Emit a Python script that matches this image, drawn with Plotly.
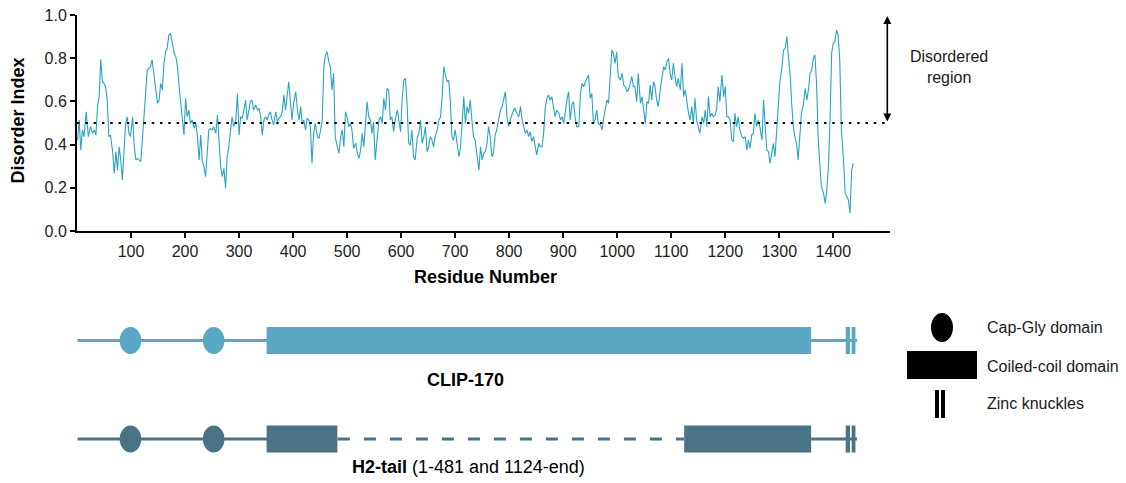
import plotly.graph_objects as go

# ---------------- data ----------------
res_a = [1, 4, 7, 10, 13, 17, 21, 25, 29, 32, 35, 38, 41, 44, 47, 50, 53, 56, 59, 62, 66, 69, 72, 75, 78, 81, 84, 87, 90, 93, 96, 99, 103, 106, 109, 112, 115, 118, 121, 124, 127, 130, 133, 136, 139, 143, 146, 149, 152, 155, 158, 161, 164, 167, 170, 173, 176, 180, 183, 186, 189, 192, 195, 198, 201, 204, 207, 210, 213, 217, 220, 223, 226, 229, 232]
dis_a = [0.42, 0.514, 0.375, 0.468, 0.437, 0.552, 0.437, 0.483, 0.452, 0.468, 0.444, 0.576, 0.622, 0.795, 0.691, 0.684, 0.668, 0.606, 0.437, 0.444, 0.367, 0.267, 0.367, 0.282, 0.39, 0.329, 0.236, 0.39, 0.498, 0.529, 0.452, 0.437, 0.529, 0.39, 0.329, 0.336, 0.329, 0.321, 0.421, 0.529, 0.606, 0.745, 0.753, 0.761, 0.792, 0.699, 0.637, 0.591, 0.606, 0.684, 0.653, 0.776, 0.83, 0.846, 0.907, 0.915, 0.877, 0.823, 0.807, 0.761, 0.668, 0.591, 0.529, 0.444, 0.614, 0.529, 0.56, 0.498, 0.514, 0.475, 0.498, 0.437, 0.329, 0.444, 0.321]

res_b = [235, 238, 241, 244, 247, 250, 253, 257, 260, 263, 266, 269, 272, 275, 278, 281, 284, 287, 290, 294, 297, 300, 303, 306, 309, 312, 315, 318, 321, 324, 327, 331, 334, 337, 340, 343, 346, 349, 352, 355, 358, 361, 364, 368, 371, 374, 377, 380, 383, 386, 389, 392, 395, 398, 401, 405, 408, 411, 414, 417, 420, 423, 426, 429, 432, 435, 438, 441, 445, 448, 451, 454, 457, 460, 463, 466, 469, 472, 475, 478]
dis_b = [0.298, 0.252, 0.36, 0.468, 0.475, 0.468, 0.483, 0.452, 0.537, 0.39, 0.298, 0.252, 0.29, 0.198, 0.344, 0.39, 0.452, 0.529, 0.483, 0.514, 0.637, 0.444, 0.529, 0.522, 0.56, 0.606, 0.514, 0.568, 0.599, 0.606, 0.56, 0.583, 0.56, 0.568, 0.529, 0.444, 0.514, 0.529, 0.514, 0.537, 0.552, 0.514, 0.491, 0.552, 0.506, 0.522, 0.529, 0.552, 0.63, 0.56, 0.614, 0.691, 0.599, 0.514, 0.591, 0.645, 0.56, 0.514, 0.576, 0.498, 0.514, 0.468, 0.522, 0.514, 0.483, 0.313, 0.452, 0.498, 0.437, 0.429, 0.468, 0.514, 0.761, 0.815, 0.83, 0.784, 0.761, 0.653, 0.73, 0.437]

res_c = [482, 485, 488, 491, 494, 497, 500, 503, 506, 509, 512, 516, 519, 522, 525, 528, 531, 534, 537, 540, 543, 546, 549, 552, 556, 559, 562, 565, 568, 571, 574, 577, 580, 583, 586, 589, 593, 596, 599, 602, 605, 608, 611, 614, 617, 620, 623, 626, 630, 633, 636, 639, 642, 645, 648, 651, 654, 657, 660, 663, 667, 670, 673, 676, 679, 682, 685, 688, 691, 694, 697, 700, 704, 707, 710, 713]
dis_c = [0.39, 0.36, 0.437, 0.468, 0.39, 0.552, 0.529, 0.483, 0.498, 0.468, 0.383, 0.406, 0.36, 0.336, 0.375, 0.452, 0.39, 0.514, 0.599, 0.529, 0.514, 0.452, 0.506, 0.329, 0.421, 0.514, 0.529, 0.498, 0.614, 0.56, 0.66, 0.653, 0.514, 0.529, 0.46, 0.514, 0.56, 0.498, 0.46, 0.614, 0.699, 0.707, 0.591, 0.406, 0.398, 0.468, 0.344, 0.329, 0.437, 0.452, 0.514, 0.406, 0.437, 0.483, 0.367, 0.39, 0.437, 0.421, 0.39, 0.437, 0.468, 0.514, 0.529, 0.622, 0.761, 0.722, 0.691, 0.699, 0.606, 0.437, 0.421, 0.468, 0.39, 0.344, 0.39, 0.498]

res_d = [716, 719, 722, 725, 728, 731, 734, 737, 740, 744, 747, 750, 753, 756, 759, 762, 765, 768, 771, 774, 777, 781, 784, 787, 790, 793, 796, 799, 802, 805, 808, 811, 814, 818, 821, 824, 827, 830, 833, 836, 839, 842, 845, 848, 851, 855, 858, 861, 864, 867, 870, 873, 876, 879, 882, 885, 888, 892, 895, 898, 901, 904, 907, 910, 913, 916, 919, 922, 925, 929, 932, 935, 938, 941, 944, 947, 950, 953]
dis_d = [0.622, 0.498, 0.576, 0.545, 0.606, 0.514, 0.437, 0.421, 0.36, 0.282, 0.39, 0.329, 0.36, 0.367, 0.406, 0.483, 0.437, 0.344, 0.36, 0.444, 0.468, 0.529, 0.56, 0.576, 0.606, 0.645, 0.529, 0.483, 0.514, 0.537, 0.56, 0.568, 0.545, 0.529, 0.576, 0.514, 0.483, 0.452, 0.468, 0.437, 0.46, 0.414, 0.437, 0.39, 0.352, 0.406, 0.39, 0.39, 0.46, 0.576, 0.614, 0.63, 0.606, 0.622, 0.576, 0.529, 0.56, 0.545, 0.514, 0.529, 0.498, 0.568, 0.606, 0.645, 0.514, 0.583, 0.599, 0.529, 0.483, 0.483, 0.637, 0.684, 0.668, 0.691, 0.707, 0.722, 0.614, 0.637]

res_e = [956, 959, 962, 965, 969, 972, 975, 978, 981, 984, 987, 990, 993, 996, 999, 1002, 1006, 1009, 1012, 1015, 1018, 1021, 1024, 1027, 1030, 1033, 1036, 1039, 1043, 1046, 1049, 1052, 1055, 1058, 1061, 1064, 1067, 1070, 1073, 1076, 1080, 1083, 1086, 1089, 1092, 1095, 1098, 1101, 1104, 1107, 1110, 1113, 1117, 1120, 1123, 1126, 1129, 1132, 1135, 1138, 1141, 1144, 1147, 1150, 1153, 1157, 1160, 1163, 1166, 1169, 1172, 1175, 1178, 1181, 1184, 1187, 1190, 1194]
dis_e = [0.498, 0.514, 0.56, 0.498, 0.491, 0.468, 0.522, 0.56, 0.606, 0.591, 0.738, 0.838, 0.823, 0.776, 0.83, 0.715, 0.699, 0.73, 0.676, 0.668, 0.645, 0.653, 0.684, 0.715, 0.668, 0.668, 0.599, 0.73, 0.591, 0.622, 0.56, 0.498, 0.599, 0.591, 0.676, 0.606, 0.691, 0.668, 0.606, 0.576, 0.66, 0.715, 0.761, 0.745, 0.784, 0.799, 0.73, 0.699, 0.776, 0.715, 0.668, 0.707, 0.653, 0.776, 0.622, 0.653, 0.591, 0.545, 0.514, 0.576, 0.498, 0.614, 0.514, 0.483, 0.452, 0.529, 0.498, 0.56, 0.483, 0.622, 0.529, 0.545, 0.529, 0.537, 0.56, 0.668, 0.599, 0.722]

res_f = [1197, 1200, 1203, 1206, 1209, 1212, 1215, 1218, 1221, 1224, 1227, 1231, 1234, 1237, 1240, 1243, 1246, 1249, 1252, 1255, 1258, 1261, 1264, 1268, 1271, 1274, 1277, 1280, 1283, 1286, 1289, 1292, 1295, 1298, 1301, 1305, 1308, 1311, 1314, 1317, 1320, 1323, 1326, 1329, 1332, 1335, 1338, 1341, 1345, 1348, 1351, 1354, 1357, 1360, 1363, 1366, 1369, 1372, 1375, 1378, 1382, 1385, 1388, 1391, 1394, 1397, 1400, 1403, 1406, 1409, 1412, 1415, 1419, 1422, 1425, 1428, 1431, 1434, 1437]
dis_f = [0.622, 0.668, 0.529, 0.529, 0.514, 0.421, 0.414, 0.545, 0.483, 0.529, 0.468, 0.437, 0.429, 0.437, 0.375, 0.421, 0.383, 0.444, 0.452, 0.545, 0.483, 0.514, 0.483, 0.421, 0.606, 0.483, 0.375, 0.367, 0.313, 0.36, 0.406, 0.344, 0.452, 0.606, 0.684, 0.761, 0.838, 0.846, 0.9, 0.807, 0.73, 0.591, 0.483, 0.437, 0.406, 0.329, 0.452, 0.545, 0.591, 0.66, 0.606, 0.653, 0.73, 0.745, 0.799, 0.815, 0.684, 0.437, 0.313, 0.205, 0.174, 0.128, 0.19, 0.298, 0.514, 0.823, 0.869, 0.877, 0.931, 0.907, 0.792, 0.468, 0.329, 0.174, 0.159, 0.144, 0.082, 0.282, 0.313]

residues = res_a + res_b + res_c + res_d + res_e + res_f
disorder = dis_a + dis_b + dis_c + dis_d + dis_e + dis_f

x_ticks = [100, 200, 300, 400, 500, 600, 700, 800, 900, 1000, 1100, 1200, 1300, 1400]
y_ticks = [0.0, 0.2, 0.4, 0.6, 0.8, 1.0]
threshold = 0.5

# domain architecture (residue numbers)
protein_end = 1444
cap_gly_centers = [99, 253]
coiled_coil = [351, 1359]
h2_kept = [[351, 482], [1124, 1359]]
zinc_knuckles = [[1423, 1431], [1434, 1441]]

# ---------------- geometry helpers ----------------
# the captured page is squeezed vertically by ~483/492, so lay out on a 492 px tall canvas
K = 483 / 492
W, H = 1126, 492
ML, MR, MB = 77, 236, 0
MT = 15 / K
PW, PH = W - ML - MR, H - MT - MB


def fx(p):
    return (p - ML) / PW


def fy(p):
    # p = target pixel row in the final 483 px picture
    return (H - MB - p / K) / PH


C1 = "#5aa8c5"
C2 = "#4a7384"
LINE_C = "#2aa5c1"
FONT = "Liberation Sans, Arial, Helvetica, sans-serif"

fig = go.Figure()
fig.add_trace(go.Scatter(x=residues, y=disorder, mode="lines",
                         line=dict(color=LINE_C, width=1.1),
                         hoverinfo="skip", showlegend=False))

shapes = []
# threshold dotted line
shapes.append(dict(type="line", xref="x", yref="y", x0=0, x1=1500, y0=threshold, y1=threshold,
                   line=dict(color="black", width=2.2, dash="2.5px,5.8px")))

circ_half = 20  # residues (~11 px)


def row(yc, color, dashed):
    top, bot = yc - 13.5, yc + 13.5
    s = []
    lw = 3
    if dashed:
        s.append(dict(type="line", xref="x", yref="paper", x0=1, x1=h2_kept[0][1], y0=fy(yc), y1=fy(yc),
                      line=dict(color=color, width=lw)))
        s.append(dict(type="line", xref="x", yref="paper", x0=h2_kept[0][1] + 1, x1=h2_kept[1][0], y0=fy(yc), y1=fy(yc),
                      line=dict(color=color, width=lw, dash="12px,14px")))
        s.append(dict(type="line", xref="x", yref="paper", x0=h2_kept[1][1], x1=protein_end, y0=fy(yc), y1=fy(yc),
                      line=dict(color=color, width=lw)))
        boxes = h2_kept
    else:
        s.append(dict(type="line", xref="x", yref="paper", x0=1, x1=protein_end, y0=fy(yc), y1=fy(yc),
                      line=dict(color=color, width=lw)))
        boxes = [coiled_coil]
    for c in cap_gly_centers:
        s.append(dict(type="circle", xref="x", yref="paper", x0=c - circ_half, x1=c + circ_half,
                      y0=fy(bot), y1=fy(top), fillcolor=color, line=dict(width=0)))
    for b in boxes:
        s.append(dict(type="rect", xref="x", yref="paper", x0=b[0], x1=b[1],
                      y0=fy(bot), y1=fy(top), fillcolor=color, line=dict(width=0)))
    for k in zinc_knuckles:
        s.append(dict(type="rect", xref="x", yref="paper", x0=k[0], x1=k[1],
                      y0=fy(bot), y1=fy(top), fillcolor=color, line=dict(width=0)))
    return s


shapes += row(340.5, C1, False)
shapes += row(439, C2, True)

# legend symbols (black)
shapes.append(dict(type="circle", xref="paper", yref="paper", x0=fx(931), x1=fx(953), y0=fy(342), y1=fy(313),
                   fillcolor="black", line=dict(width=0)))
shapes.append(dict(type="rect", xref="paper", yref="paper", x0=fx(907), x1=fx(977), y0=fy(379), y1=fy(351),
                   fillcolor="black", line=dict(width=0)))
shapes.append(dict(type="rect", xref="paper", yref="paper", x0=fx(935), x1=fx(939), y0=fy(418), y1=fy(390),
                   fillcolor="black", line=dict(width=0)))
shapes.append(dict(type="rect", xref="paper", yref="paper", x0=fx(941), x1=fx(945), y0=fy(418), y1=fy(390),
                   fillcolor="black", line=dict(width=0)))


def note(px_, py_, text, size, color="black", xanchor="center", **kw):
    return dict(x=fx(px_), y=fy(py_), xref="paper", yref="paper", text=text, showarrow=False,
                xanchor=xanchor, yanchor="middle",
                font=dict(family=FONT, size=size, color=color), **kw)


annotations = [
    # double-headed arrow
    dict(x=1500, y=0.995, xref="x", yref="y", ax=1500, ay=0.5, axref="x", ayref="y",
         showarrow=True, arrowhead=2, startarrowhead=2, arrowside="end+start",
         arrowsize=1, startarrowsize=1, arrowwidth=1.6, arrowcolor="black", text="",
         standoff=0, startstandoff=0),
    note(949, 67, "Disordered<br>region", 16, "#1a1a1a", align="center"),
    note(485, 277, "<b>Residue Number</b>", 18),
    note(17.5, 121, "<b>Disorder Index</b>", 18, textangle=-90),
    note(465, 380, "<b>CLIP-170</b>", 18),
    note(468, 467, "<b>H2-tail</b> (1-481 and 1124-end)", 18),
    note(985, 327, "Cap-Gly domain", 16, "#1a1a1a", xanchor="left"),
    note(985, 366, "Coiled-coil domain", 16, "#1a1a1a", xanchor="left"),
    note(985, 404, "Zinc knuckles", 16, "#1a1a1a", xanchor="left"),
]

fig.update_layout(
    width=W, height=H,
    margin=dict(l=ML, r=MR, t=MT, b=MB, pad=0),
    paper_bgcolor="white", plot_bgcolor="white",
    showlegend=False,
    shapes=shapes, annotations=annotations,
    xaxis=dict(range=[0, 1505], domain=[0, 1], tickvals=x_ticks, ticks="outside", ticklen=5,
               tickwidth=2, tickcolor="black", showline=True, linecolor="black", linewidth=2,
               showgrid=False, zeroline=False, anchor="y",
               tickfont=dict(family=FONT, size=16, color="#222")),
    yaxis=dict(range=[0, 1.0], domain=[fy(231), 1], tickvals=y_ticks, tickformat=".1f",
               ticks="outside", ticklen=5, tickwidth=2, tickcolor="black", showline=True,
               linecolor="black", linewidth=2, showgrid=False, zeroline=False,
               tickfont=dict(family=FONT, size=16, color="#222")),
)

fig.write_html("out.html", config={"displayModeBar": False},
               post_script="document.body.style.margin='0px';")
